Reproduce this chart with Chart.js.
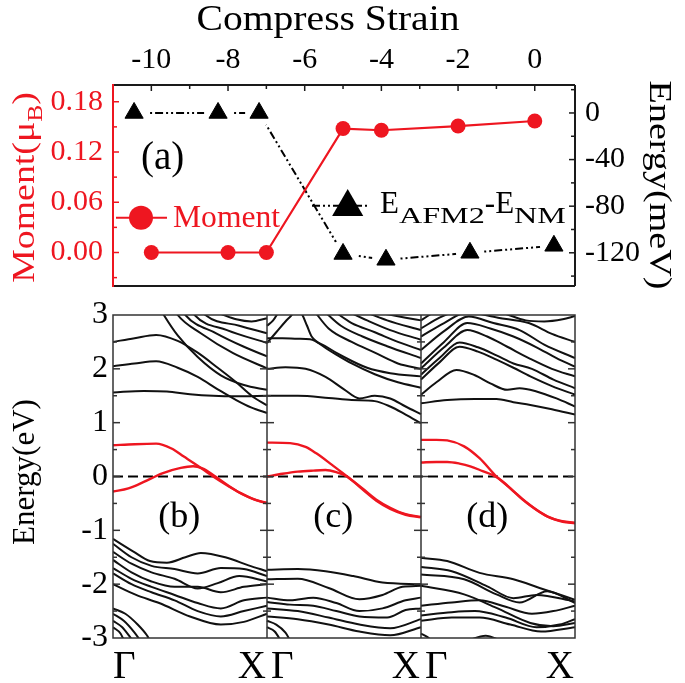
<!DOCTYPE html>
<html><head><meta charset="utf-8">
<script src="https://cdn.jsdelivr.net/npm/chart.js@4.4.1/dist/chart.umd.min.js"></script>
<style>
html,body{margin:0;padding:0;background:#fff;width:685px;height:683px;overflow:hidden}
canvas{position:absolute;left:0}
#top{top:0}
#bot{top:300px}
</style></head><body>
<canvas id="top" width="685" height="300"></canvas>
<canvas id="bot" width="685" height="383"></canvas>
<script>
// ---------------- data (top panel) ----------------
const strainMoment = [-10, -8, -7, -5, -4, -2, 0];
const moment       = [0.000, 0.000, 0.000, 0.148, 0.146, 0.151, 0.157];
const strainEnergy = [-10.45, -8.26, -7.19, -5.0, -3.88, -1.69, 0.50];
const energyDiff   = [0, 0, 0, -121, -126, -120, -114];
const strainTicks  = [-10, -8, -6, -4, -2, 0];
const momentTicks  = [0, 0.06, 0.12, 0.18];
const energyTicks  = [0, -40, -80, -120];

// ---------------- data (band panels) ----------------
const bandTicks = [-3, -2, -1, 0, 1, 2, 3];
const kLabels = ['Γ', 'X'];
const panelLabels = ['(b)', '(c)', '(d)'];
const fermiLevel = [[0, 0], [3, 0]];

const condB = [
 [[0,1.56],[0.2,1.59],[0.35,1.58],[0.5,1.53],[0.65,1.5],[0.8,1.49],[1,1.5]],
 [[0,2.05],[0.14,2.1],[0.28,2.14],[0.42,2.02],[0.55,1.85],[0.68,1.62],[0.8,1.42],[0.9,1.28],[1,1.18]],
 [[0,2.5],[0.14,2.57],[0.28,2.63],[0.42,2.52],[0.55,2.3],[0.68,2.02],[0.8,1.75],[0.9,1.5],[1,1.32]],
 [[0.3,3.15],[0.33,3.0],[0.42,2.62],[0.55,2.22],[0.7,1.88],[0.85,1.7],[1,1.61]],
 [[0.39,3.15],[0.42,3.0],[0.57,2.66],[0.78,2.29],[1,2.01]],
 [[0.44,3.15],[0.47,3.0],[0.67,2.66],[0.85,2.41],[1,2.23]],
 [[0.5,3.15],[0.53,3.0],[0.74,2.72],[1,2.48]],
 [[0.56,3.15],[0.6,3.0],[0.82,2.8],[1,2.66]],
 [[0.7,3.02],[0.8,2.92],[0.9,2.88],[1,2.94]]
];
const valB = [
 [[0,-1.16],[0.13,-1.39],[0.24,-1.57],[0.35,-1.6],[0.47,-1.5],[0.57,-1.42],[0.74,-1.51],[0.88,-1.65],[1,-1.76]],
 [[0,-1.25],[0.12,-1.5],[0.25,-1.66],[0.4,-1.72],[0.55,-1.8],[0.7,-1.7],[0.85,-1.72],[1,-1.85]],
 [[0,-1.4],[0.12,-1.62],[0.25,-1.78],[0.4,-1.9],[0.55,-2.08],[0.68,-1.98],[0.82,-1.85],[1,-1.95]],
 [[0,-1.55],[0.12,-1.78],[0.25,-1.95],[0.4,-2.05],[0.55,-2.05],[0.7,-2.15],[0.85,-2.05],[1,-2.0]],
 [[0,-1.7],[0.12,-1.9],[0.25,-2.05],[0.4,-2.2],[0.55,-2.35],[0.7,-2.45],[0.85,-2.3],[1,-2.25]],
 [[0,-1.8],[0.12,-2.0],[0.25,-2.15],[0.4,-2.3],[0.55,-2.5],[0.7,-2.6],[0.85,-2.5],[1,-2.4]],
 [[0,-2.0],[0.15,-2.2],[0.3,-2.35],[0.5,-2.6],[0.7,-2.75],[0.85,-2.7],[1,-2.55]],
 [[0,-2.45],[0.08,-2.55],[0.16,-2.75],[0.22,-2.95],[0.25,-3.1]],
 [[0,-2.55],[0.07,-2.68],[0.14,-2.9],[0.19,-3.1]],
 [[0,-2.68],[0.06,-2.8],[0.11,-2.98],[0.14,-3.1]],
 [[0,-2.8],[0.05,-2.92],[0.08,-3.1]]
];
const redB = [
 [[0,0.58],[0.14,0.6],[0.28,0.61],[0.38,0.52],[0.46,0.37],[0.55,0.2],[0.65,0.0],[0.75,-0.18],[0.83,-0.31],[0.92,-0.43],[1,-0.49]],
 [[0,-0.28],[0.1,-0.22],[0.2,-0.1],[0.32,0.06],[0.44,0.16],[0.52,0.19],[0.58,0.15],[0.66,0.01],[0.75,-0.17],[0.84,-0.33],[0.93,-0.44],[1,-0.5]]
];

const condC = [
 [[0,1.5],[0.2,1.5],[0.4,1.46],[0.55,1.42],[0.7,1.4],[0.8,1.3],[0.9,1.15],[1,0.99]],
 [[0,2.0],[0.12,2.03],[0.25,2.0],[0.38,1.85],[0.5,1.62],[0.6,1.45],[0.7,1.5],[0.8,1.45],[0.9,1.3],[1,1.16]],
 [[0,2.57],[0.1,2.57],[0.2,2.56],[0.28,2.55],[0.4,2.35],[0.55,2.1],[0.7,1.9],[0.85,1.75],[1,1.65]],
 [[0,2.48],[0.06,2.68],[0.12,2.88],[0.16,3.0],[0.19,3.12]],
 [[0.2,3.12],[0.23,3.0],[0.26,2.8],[0.29,2.6],[0.38,2.42],[0.5,2.22],[0.65,2.02],[0.8,1.92],[1,1.86]],
 [[0.3,3.1],[0.4,2.75],[0.55,2.5],[0.7,2.3],[0.85,2.1],[1,2.0]],
 [[0.36,3.1],[0.48,2.8],[0.62,2.6],[0.78,2.42],[1,2.2]],
 [[0.42,3.1],[0.55,2.85],[0.7,2.68],[0.85,2.5],[1,2.35]],
 [[0.5,3.1],[0.65,2.9],[0.8,2.72],[1,2.54]],
 [[0.62,3.08],[0.78,2.9],[1,2.72]],
 [[0.75,3.03],[0.9,2.95],[1,2.9]],
 [[0,2.8],[0.04,2.9],[0.08,3.08]]
];
const valC = [
 [[0,-1.73],[0.2,-1.72],[0.38,-1.76],[0.56,-1.85],[0.75,-1.97],[1,-2.0]],
 [[0,-1.91],[0.2,-1.9],[0.4,-2.07],[0.6,-2.28],[0.75,-2.2],[0.88,-2.05],[1,-2.03]],
 [[0,-2.25],[0.15,-2.3],[0.3,-2.25],[0.45,-2.35],[0.6,-2.5],[0.75,-2.45],[0.9,-2.3],[1,-2.25]],
 [[0,-2.33],[0.15,-2.38],[0.3,-2.4],[0.45,-2.5],[0.6,-2.6],[0.78,-2.62],[0.9,-2.48],[1,-2.45]],
 [[0,-2.45],[0.2,-2.5],[0.4,-2.62],[0.6,-2.75],[0.8,-2.82],[1,-2.65]],
 [[0,-2.6],[0.2,-2.65],[0.4,-2.75],[0.6,-2.88],[0.8,-2.95],[1,-2.8]],
 [[0,-2.68],[0.06,-2.75],[0.12,-2.9],[0.16,-3.1]],
 [[0,-2.8],[0.05,-2.88],[0.1,-3.1]]
];
const redC = [
 [[0,0.63],[0.15,0.62],[0.25,0.55],[0.32,0.43],[0.42,0.22],[0.52,0.0],[0.62,-0.22],[0.71,-0.43],[0.8,-0.58],[0.9,-0.7],[1,-0.75]],
 [[0,0.0],[0.1,0.05],[0.2,0.09],[0.3,0.11],[0.38,0.12],[0.45,0.08],[0.52,0.0],[0.62,-0.24],[0.71,-0.45],[0.8,-0.6],[0.9,-0.71],[1,-0.76]]
];

const condD = [
 [[0,1.36],[0.17,1.42],[0.35,1.44],[0.49,1.44],[0.6,1.38],[0.71,1.33],[0.85,1.25],[1,1.15]],
 [[0,1.52],[0.1,1.75],[0.23,1.98],[0.35,1.88],[0.45,1.73],[0.56,1.61],[0.64,1.64],[0.75,1.58],[0.88,1.45],[1,1.3]],
 [[0,1.8],[0.12,2.12],[0.25,2.41],[0.37,2.32],[0.49,2.17],[0.6,2.02],[0.71,1.86],[0.85,1.68],[1,1.52]],
 [[0,1.89],[0.12,2.2],[0.25,2.49],[0.37,2.4],[0.49,2.25],[0.6,2.1],[0.72,2.0],[0.86,1.8],[1,1.64]],
 [[0,2.01],[0.15,2.4],[0.3,2.72],[0.43,2.6],[0.56,2.41],[0.7,2.2],[0.85,2.0],[1,1.86]],
 [[0,2.1],[0.15,2.5],[0.3,2.85],[0.45,2.75],[0.6,2.6],[0.75,2.4],[0.88,2.2],[1,2.04]],
 [[0,2.35],[0.15,2.7],[0.31,2.97],[0.47,2.85],[0.64,2.72],[0.8,2.45],[1,2.2]],
 [[0,2.6],[0.15,2.85],[0.3,3.05],[0.5,2.95],[0.7,2.85],[0.85,2.65],[1,2.5]],
 [[0,2.75],[0.12,2.95],[0.2,3.05]],
 [[0.55,3.02],[0.68,2.9],[0.8,2.88],[0.92,2.92],[1,2.98]],
 [[0,2.9],[0.08,3.05]]
];
const valD = [
 [[0,-1.51],[0.17,-1.57],[0.38,-1.79],[0.6,-1.91],[0.77,-2.07],[1,-2.29]],
 [[0,-1.68],[0.2,-1.76],[0.43,-2.04],[0.6,-2.26],[0.75,-2.2],[1,-2.32]],
 [[0,-1.82],[0.28,-1.91],[0.49,-2.19],[0.64,-2.34],[0.82,-2.13],[1,-2.35]],
 [[0,-2.03],[0.28,-2.19],[0.49,-2.44],[0.71,-2.72],[0.86,-2.78],[1,-2.72]],
 [[0,-2.4],[0.2,-2.34],[0.38,-2.3],[0.55,-2.42],[0.72,-2.55],[0.86,-2.5],[1,-2.4]],
 [[0,-2.58],[0.2,-2.52],[0.35,-2.5],[0.55,-2.62],[0.75,-2.8],[0.9,-2.75],[1,-2.65]],
 [[0,-2.68],[0.2,-2.62],[0.38,-2.62],[0.58,-2.75],[0.78,-2.88],[1,-2.8]],
 [[0.3,-3.05],[0.42,-2.96],[0.52,-3.05]],
 [[0,-2.92],[0.04,-2.98],[0.07,-3.05]]
];
const redD = [
 [[0,0.68],[0.1,0.68],[0.17,0.67],[0.28,0.56],[0.38,0.34],[0.49,0.0],[0.58,-0.22],[0.66,-0.43],[0.74,-0.6],[0.82,-0.74],[0.9,-0.82],[1,-0.86]],
 [[0,0.26],[0.1,0.27],[0.17,0.27],[0.25,0.24],[0.32,0.19],[0.4,0.1],[0.47,0.02],[0.52,-0.07],[0.6,-0.27],[0.68,-0.47],[0.76,-0.64],[0.84,-0.77],[0.92,-0.84],[1,-0.87]]
];

// ---------------- styling / helpers ----------------
const RED = '#ee1620';
const SERIF = "'Liberation Serif','Times New Roman',serif";
Chart.defaults.font.family = SERIF;

function fixW(w){ return s => { s.width = w; s.paddingTop = 0; s.paddingBottom = 0; }; }
function fixH(h){ return s => { s.height = h; s.paddingLeft = 0; s.paddingRight = 0; }; }
function setTicks(arr){ return s => { s.ticks = arr.map(v => ({value: v})); }; }
function midpoints(arr){ const m = []; for (let i = 0; i < arr.length - 1; i++) m.push((arr[i] + arr[i+1]) / 2); return m; }

function rich(ctx, runs, x, y, rot, color, align){
  ctx.save();
  ctx.translate(x, y); ctx.rotate(rot || 0);
  ctx.fillStyle = color; ctx.textBaseline = 'alphabetic'; ctx.textAlign = 'left';
  let total = 0;
  const ws = runs.map(r => { ctx.font = r.size + 'px ' + SERIF; const w = ctx.measureText(r.t).width * (r.sx || 1); total += w; return w; });
  let cx = align === 'center' ? -total / 2 : (align === 'right' ? -total : 0);
  runs.forEach((r, i) => {
    ctx.save(); ctx.translate(cx, r.dy || 0); ctx.scale(r.sx || 1, 1);
    ctx.font = r.size + 'px ' + SERIF; ctx.fillText(r.t, 0, 0); ctx.restore();
    cx += ws[i];
  });
  ctx.restore();
}
function hLine(ctx, x1, x2, y){ ctx.beginPath(); ctx.moveTo(x1, y); ctx.lineTo(x2, y); ctx.stroke(); }
function vLine(ctx, x, y1, y2){ ctx.beginPath(); ctx.moveTo(x, y1); ctx.lineTo(x, y2); ctx.stroke(); }

// ---------------- top chart ----------------
const energyPts = strainEnergy.map((x, i) => ({x, y: energyDiff[i]}));
const momentPts = strainMoment.map((x, i) => ({x, y: moment[i]}));

const topDecor = {
  id: 'topDecor',
  afterDatasetsDraw(chart){
    const {ctx, chartArea: a, scales} = chart;
    ctx.save();
    ctx.lineWidth = 2; ctx.strokeStyle = '#1a1a1a';
    hLine(ctx, a.left, a.right, a.top); hLine(ctx, a.left, a.right, a.bottom);
    vLine(ctx, a.right, a.top, a.bottom);
    ctx.strokeStyle = RED; vLine(ctx, a.left, a.top - 1, a.bottom + 1);
    ctx.lineWidth = 1.5;
    ctx.strokeStyle = '#1a1a1a';
    strainTicks.forEach(v => { const p = scales.x.getPixelForValue(v); vLine(ctx, p, a.top, a.top + 6); });
    midpoints(strainTicks).forEach(v => { const p = scales.x.getPixelForValue(v); vLine(ctx, p, a.top, a.top + 4); });
    energyTicks.forEach(v => { const p = scales.yE.getPixelForValue(v); hLine(ctx, a.right - 6, a.right, p); });
    midpoints(energyTicks).concat([energyTicks[energyTicks.length-1] - 20, energyTicks[0] + 20]).forEach(v => {
      if (v < scales.yE.min || v > scales.yE.max) return;
      const p = scales.yE.getPixelForValue(v); hLine(ctx, a.right - 4, a.right, p); });
    ctx.strokeStyle = RED;
    momentTicks.forEach(v => { const p = scales.y.getPixelForValue(v); hLine(ctx, a.left, a.left + 6, p); });
    midpoints(momentTicks).concat([momentTicks[0] - 0.03, momentTicks[momentTicks.length-1] + 0.03]).forEach(v => {
      if (v < scales.y.min || v > scales.y.max) return;
      const p = scales.y.getPixelForValue(v); hLine(ctx, a.left, a.left + 4, p); });
    ctx.restore();
  },
  afterDraw(chart){
    const ctx = chart.ctx;
    rich(ctx, [{t: 'Compress Strain', size: 36, sx: 1.1}], 328, 30, 0, '#000', 'center');
    rich(ctx, [{t: 'Moment(μ', size: 31, sx: 1.22}, {t: 'B', size: 21, sx: 1.22, dy: 8}, {t: ')', size: 31, sx: 1.22}], 34, 187.5, -Math.PI/2, RED, 'center');
    rich(ctx, [{t: 'Energy(meV)', size: 31, sx: 1.23}], 650, 185, Math.PI/2, '#000', 'center');
    rich(ctx, [{t: '(a)', size: 39}], 141, 169, 0, '#000', 'left');
    ctx.save();
    ctx.strokeStyle = RED; ctx.lineWidth = 2; hLine(ctx, 116, 167, 217.7);
    ctx.fillStyle = RED; ctx.beginPath(); ctx.arc(141, 217.7, 12, 0, Math.PI*2); ctx.fill();
    ctx.restore();
    rich(ctx, [{t: 'Moment', size: 31, sx: 1.02}], 173, 227, 0, RED, 'left');
    ctx.save();
    ctx.strokeStyle = '#000'; ctx.lineWidth = 2; ctx.setLineDash([8,3,2,3,2,3]); hLine(ctx, 312, 368, 205.7);
    ctx.setLineDash([]);
    const cx = 347.7, cy = 207, r = 18;
    ctx.fillStyle = '#000'; ctx.beginPath();
    ctx.moveTo(cx, cy - r); ctx.lineTo(cx + 0.866*r, cy + 0.5*r); ctx.lineTo(cx - 0.866*r, cy + 0.5*r); ctx.closePath(); ctx.fill();
    ctx.restore();
    rich(ctx, [{t: 'E', size: 31}, {t: 'AFM2', size: 23, sx: 1.4, dy: 10}, {t: '-', size: 31}, {t: 'E', size: 31}, {t: 'NM', size: 23, sx: 1.4, dy: 10}], 380, 213, 0, '#000', 'left');
  }
};

new Chart(document.getElementById('top'), {
  type: 'line',
  data: {datasets: [
    {label: 'EAFM2-ENM line', data: energyPts, yAxisID: 'yE', borderColor: '#000', borderWidth: 2, borderDash: [8,3,2,3,2,3], pointRadius: 0, order: 5},
    {label: 'gap', data: energyPts, yAxisID: 'yE', showLine: false, pointRadius: 14, pointBackgroundColor: '#fff', pointBorderColor: '#fff', pointBorderWidth: 0, order: 4},
    {label: 'EAFM2-ENM', data: energyPts, yAxisID: 'yE', showLine: false, pointStyle: 'triangle', pointRadius: 10.5, pointBackgroundColor: '#000', pointBorderColor: '#000', pointBorderWidth: 1, order: 3},
    {label: 'Moment', data: momentPts, yAxisID: 'y', borderColor: RED, borderWidth: 2.2, pointRadius: 7.5, pointBackgroundColor: RED, pointBorderColor: RED, pointBorderWidth: 0, order: 1}
  ]},
  options: {
    responsive: false, animation: false, events: [],
    layout: {padding: {top: 0, left: 0, right: 0, bottom: 9}},
    plugins: {legend: {display: false}, tooltip: {enabled: false}},
    scales: {
      x: {type: 'linear', position: 'top', min: -11, max: 1.05, afterBuildTicks: setTicks(strainTicks), afterFit: fixH(85),
          grid: {display: false, drawTicks: false}, border: {display: false},
          ticks: {font: {family: SERIF, size: 30}, color: '#000', padding: 7, maxRotation: 0, callback: v => String(v)}},
      y: {type: 'linear', position: 'left', min: -0.04, max: 0.2, afterBuildTicks: setTicks(momentTicks), afterFit: fixW(113),
          grid: {display: false, drawTicks: false}, border: {display: false},
          ticks: {font: {family: SERIF, size: 30}, color: RED, padding: 10, callback: v => Number(v).toFixed(2)}},
      yE: {type: 'linear', position: 'right', min: -148.5, max: 24, afterBuildTicks: setTicks(energyTicks), afterFit: fixW(110),
          grid: {display: false, drawTicks: false}, border: {display: false},
          ticks: {font: {family: SERIF, size: 30}, color: '#000', padding: 10, callback: v => String(v)}}
    }
  },
  plugins: [topDecor]
});

// ---------------- bottom chart ----------------
const panels = [
  {cond: condB, val: valB, red: redB},
  {cond: condC, val: valC, red: redC},
  {cond: condD, val: valD, red: redD}
];
function bandSet(band, i, color, w){
  return {data: band.map(([k, e]) => ({x: i + k, y: e})), borderColor: color, borderWidth: w,
          pointRadius: 0, cubicInterpolationMode: 'monotone', fill: false};
}
const bandDatasets = [];
panels.forEach((p, i) => {
  p.cond.concat(p.val).forEach(b => bandDatasets.push(bandSet(b, i, '#111', 2.0)));
});
panels.forEach((p, i) => {
  p.red.forEach(b => bandDatasets.push(bandSet(b, i, RED, 2.4)));
});
bandDatasets.push({data: fermiLevel.map(([x, y]) => ({x, y})), borderColor: '#000', borderWidth: 2, borderDash: [10, 5], pointRadius: 0});

const botDecor = {
  id: 'botDecor',
  afterDatasetsDraw(chart){
    const {ctx, chartArea: a, scales: {x, y}} = chart;
    ctx.save();
    ctx.strokeStyle = '#333'; ctx.lineWidth = 1.5;
    ctx.strokeRect(a.left, a.top, a.right - a.left, a.bottom - a.top);
    const bounds = [0, 1, 2, 3];
    bounds.forEach(b => { if (b > 0 && b < 3) vLine(ctx, x.getPixelForValue(b), a.top, a.bottom); });
    const inner = bandTicks.slice(1, -1);
    const minor = midpoints(bandTicks);
    bounds.forEach(b => {
      const px = x.getPixelForValue(b);
      const draw = (v, len) => {
        const py = y.getPixelForValue(v);
        if (b < 3) hLine(ctx, px, px + len, py);
        if (b > 0) hLine(ctx, px - len, px, py);
      };
      inner.forEach(v => draw(v, 7));
      minor.forEach(v => draw(v, 4));
    });
    ctx.restore();
  },
  afterDraw(chart){
    const {ctx, scales: {x}} = chart;
    [0, 1, 2, 3].forEach(b => {
      const px = x.getPixelForValue(b);
      if (b > 0) rich(ctx, [{t: kLabels[1], size: 39}], px - 1, 378, 0, '#000', 'right');
      if (b < 3) rich(ctx, [{t: kLabels[0], size: 39}], px + (b === 0 ? 0 : 4), 378, 0, '#000', 'left');
    });
    panelLabels.forEach((t, i) => rich(ctx, [{t, size: 36}], x.getPixelForValue(i + 0.43), 227, 0, '#000', 'center'));
    rich(ctx, [{t: 'Energy(eV)', size: 31, sx: 1.0}], 34, 172, -Math.PI/2, '#000', 'center');
  }
};

new Chart(document.getElementById('bot'), {
  type: 'line',
  data: {datasets: bandDatasets},
  options: {
    responsive: false, animation: false, events: [],
    layout: {padding: {top: 15, left: 0, right: 110, bottom: 0}},
    plugins: {legend: {display: false}, tooltip: {enabled: false}},
    scales: {
      x: {type: 'linear', min: 0, max: 3, afterFit: fixH(45), ticks: {display: false},
          grid: {display: false, drawTicks: false}, border: {display: false}},
      y: {type: 'linear', min: -3, max: 3, afterBuildTicks: setTicks(bandTicks), afterFit: fixW(113),
          grid: {display: false, drawTicks: false}, border: {display: false},
          ticks: {font: {family: SERIF, size: 32}, color: '#000', padding: 5, callback: v => String(v)}}
    }
  },
  plugins: [botDecor]
});
</script>
</body></html>
